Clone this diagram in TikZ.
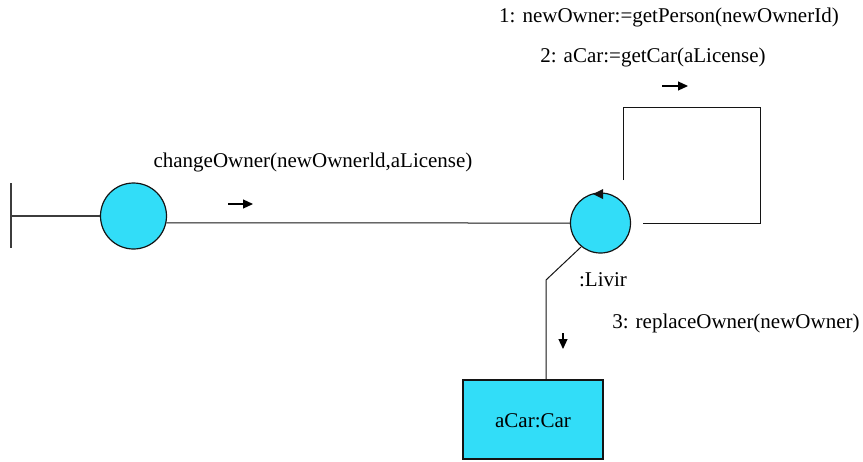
\documentclass[tikz,border=0pt]{standalone}
\usepackage{fontspec}
\setmainfont{Liberation Serif}
\usetikzlibrary{arrows.meta}

\definecolor{collabFill}{RGB}{50,221,248}
\definecolor{collabLine}{RGB}{20,20,20}
\definecolor{actorLine}{RGB}{60,60,60}

\begin{document}
\begin{tikzpicture}[x=1pt, y=-1pt,
  objcircle/.style={circle, draw=collabLine, line width=1.2pt, fill=collabFill, inner sep=0pt},
  objbox/.style={rectangle, draw=collabLine, line width=1.2pt, fill=collabFill, minimum width=140pt, minimum height=79pt},
  msglabel/.style={font=\rmfamily\fontsize{21}{25}\selectfont, inner sep=0pt},
  link/.style={draw=collabLine, line width=1pt},
  msgarrow/.style={line width=1.2pt, -{Triangle[length=10pt, width=9pt]}}]
  \useasboundingbox (0,0) rectangle (863,461);
  % actor
  \coordinate (actorTop) at (11,183);
  \coordinate (actorBot) at (11,248);
  \coordinate (actorMid) at (11,216);
  \draw[line width=1.2pt, draw=actorLine] (actorTop) -- (actorBot);
  % objects
  \node[objcircle, minimum size=66pt] (client) at (133.5,216) {};
  \node[objcircle, minimum size=60pt] (livir) at (600.5,223) {};
  \node[objbox] (car) at (533,419.5) {};
  \node[msglabel] (carName) at (533,421) {aCar:Car};
  \node[msglabel] (livirName) at (603,280) {:Livir};
  % links
  \draw[line width=1.2pt, draw=actorLine] (actorMid) -- (client.west);
  \draw[link] (client.-12) -- (livir.west);
  \coordinate (bend) at (546,280);
  \draw[link] (livir.-129) -- (bend) -- (car.north -| bend);
  % self link
  \coordinate (loopStart) at (623,180);
  \coordinate (loopEnd) at (643,223);
  \draw[link] (loopStart) -- (623,107) -- (760,107) -- (760,223) -- (loopEnd);
  \fill[collabLine] (593,194) -- (603,189) -- (603,199) -- cycle;
  % messages
  \node[msglabel] (msgChange) at (313,162) {changeOwner(newOwnerld,aLicense)};
  \draw[msgarrow] (228,204) -- (253,204);
  \node[msglabel] (msgGet) at (669,17) {1: newOwner:=getPerson(newOwnerId)};
  \node[msglabel] (msgCar) at (653,57) {2: aCar:=getCar(aLicense)};
  \draw[msgarrow] (662,86) -- (688,86);
  \node[msglabel] (msgReplace) at (736,323) {3: replaceOwner(newOwner)};
  \draw[msgarrow] (563,333) -- (563,349);
\end{tikzpicture}
\end{document}
